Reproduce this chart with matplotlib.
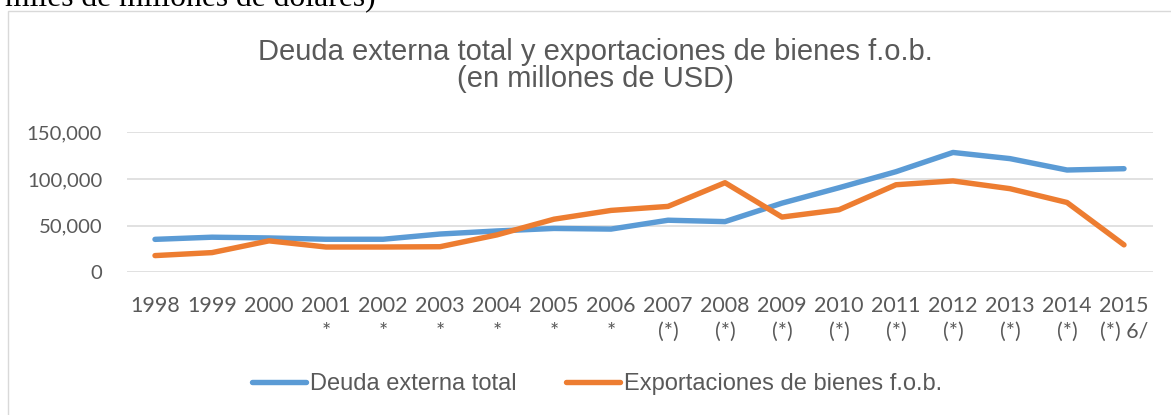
import matplotlib
matplotlib.use("Agg")
import matplotlib.pyplot as plt
from matplotlib.patches import Rectangle
from matplotlib.ticker import FuncFormatter

years = ["1998", "1999", "2000", "2001", "2002", "2003", "2004", "2005", "2006",
         "2007", "2008", "2009", "2010", "2011", "2012", "2013", "2014", "2015"]
suffixes = ["", "", "", "*", "*", "*", "*", "*", "*",
            "(*)", "(*)", "(*)", "(*)", "(*)", "(*)", "(*)", "(*)", "(*) 6/"]
deuda = [35300, 37600, 36800, 35400, 35400, 41000, 44300, 47000, 46300,
         55800, 54300, 74100, 90600, 107800, 128400, 121800, 109600, 111000]
exportaciones = [17900, 21100, 33700, 27100, 27100, 27400, 40100, 56900, 66300,
                 70600, 96000, 59200, 67000, 93800, 97900, 89600, 74800, 29400]
series_names = ["Deuda externa total", "Exportaciones de bienes f.o.b."]
title_lines = ["Deuda externa total y exportaciones de bienes f.o.b.", "(en millones de USD)"]
yticks = [0, 50000, 100000, 150000]

W, H = 1171, 415
fig = plt.figure(figsize=(W / 100, H / 100), dpi=100)
fig.patch.set_facecolor("white")

GRAY = "#595959"
BLUE = "#5B9BD5"
ORANGE = "#ED7D31"

# cut-off document text at top
fig.text(5 / W, 1 - 6.5 / H, "miles de millones de dólares)", fontsize=22.8,
         family="Liberation Serif", color="black", ha="left", va="baseline")

# chart border
fig.patches.append(Rectangle((7.5 / W, -0.05), 1.2, 1 - 11.5 / H + 0.05,
                             transform=fig.transFigure, fill=False,
                             edgecolor="#D9D9D9", linewidth=1.0))

# title
fig.text(595 / W, 1 - 59.5 / H, title_lines[0], fontsize=21, family="Liberation Sans",
         color=GRAY, ha="center", va="baseline")
fig.text(595 / W, 1 - 87 / H, title_lines[1], fontsize=21, family="Liberation Sans",
         color=GRAY, ha="center", va="baseline")

ax = fig.add_axes([126.5 / W, (H - 272.3) / H, 1026 / W, 140 / H])
x = list(range(len(years)))
ax.plot(x, deuda, color=BLUE, lw=3.9, solid_capstyle="round", solid_joinstyle="round",
        label=series_names[0], zorder=3)
ax.plot(x, exportaciones, color=ORANGE, lw=3.9, solid_capstyle="round", solid_joinstyle="round",
        label=series_names[1], zorder=3)

ax.set_xlim(-0.5, len(years) - 0.5)
ax.set_ylim(0, 150000)
ax.set_yticks(yticks)
ax.yaxis.set_major_formatter(FuncFormatter(lambda v, p: f"{int(v):,}"))
ax.grid(axis="y", color="#D9D9D9", lw=1.1, zorder=0)
ax.set_xticks(x)
ax.set_xticklabels([y if s == "" else f"{y}\n{s}" for y, s in zip(years, suffixes)],
                   linespacing=1.35)
for sp in ax.spines.values():
    sp.set_visible(False)
ax.tick_params(axis="both", length=0, colors=GRAY)
ax.tick_params(axis="y", pad=17.5, labelsize=14.6)
ax.tick_params(axis="x", pad=17, labelsize=15.4)
for lab in ax.get_xticklabels() + ax.get_yticklabels():
    lab.set_family("Lato")
for lab in ax.get_xticklabels():
    lab.set_verticalalignment("top")

leg = ax.legend(loc="center", bbox_to_anchor=(597 / W, 1 - 384 / H),
                bbox_transform=fig.transFigure, ncol=2, frameon=False,
                prop={"family": "Liberation Sans", "size": 17},
                handlelength=2.3, handletextpad=0.17, columnspacing=2.1,
                borderpad=0, borderaxespad=0)
for t in leg.get_texts():
    t.set_color(GRAY)
for h in leg.get_lines():
    h.set_linewidth(3.9)
    h.set_solid_capstyle("round")

fig.savefig("out.png", dpi=100, facecolor="white")
